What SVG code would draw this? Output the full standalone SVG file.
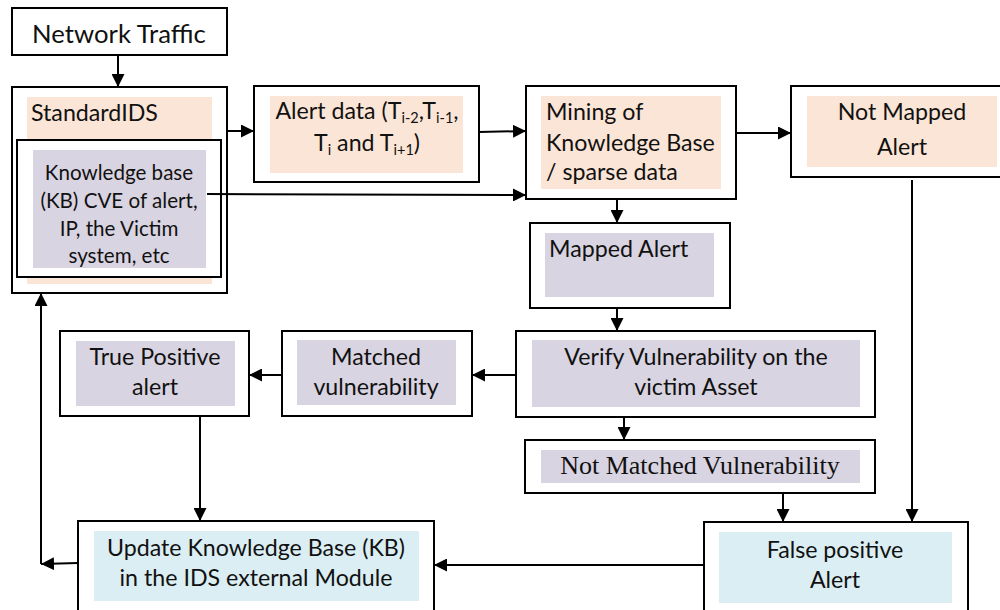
<svg xmlns="http://www.w3.org/2000/svg" width="1000" height="610" viewBox="0 0 1000 610">
  <style>
    .box { fill: #ffffff; stroke: #000000; stroke-width: 2; }
    .peach { fill: #fbe5d6; }
    .lilac { fill: #d9d4e1; }
    .aqua { fill: #daeef3; }
    .lbl { font-family: "Lato", "Liberation Sans", sans-serif; font-size: 23.2px; fill: #111111; }
    .big { font-size: 25.7px; }
    .small { font-size: 20.6px; }
    .mid { text-anchor: middle; }
    .serif { font-family: "Liberation Serif", "DejaVu Serif", serif; font-size: 26px; fill: #111111; }
    .sub { font-size: 14.5px; }
    .wire { fill: none; stroke: #000000; stroke-width: 2; }
  </style>
  <defs>
    <marker id="arrow" viewBox="0 0 13 13" refX="13" refY="6.5" markerWidth="13" markerHeight="13" markerUnits="userSpaceOnUse" orient="auto">
      <path d="M0,0 L13,6.5 L0,13 Z" fill="#000000"/>
    </marker>
  </defs>

  <rect width="1000" height="610" fill="#ffffff"/>

  <!-- nodes -->
  <g id="network-traffic">
    <rect class="box" x="12" y="8" width="215" height="47"/>
    <text class="lbl big mid" x="119" y="43">Network Traffic</text>
  </g>

  <g id="standard-ids">
    <rect class="box" x="12" y="87" width="215" height="206"/>
    <rect class="peach" x="27" y="97" width="185" height="187"/>
    <text class="lbl" x="31" y="121">StandardIDS</text>
  </g>

  <g id="knowledge-base">
    <rect class="box" x="17" y="140" width="204" height="137"/>
    <rect class="lilac" x="33" y="150" width="173" height="118"/>
    <text class="lbl small mid" x="119" y="180">Knowledge base</text>
    <text class="lbl small mid" x="119" y="208">(KB) CVE of alert,</text>
    <text class="lbl small mid" x="119" y="236">IP, the Victim</text>
    <text class="lbl small mid" x="119" y="263">system, etc</text>
  </g>

  <g id="alert-data">
    <rect class="box" x="254" y="86" width="225" height="96"/>
    <rect class="peach" x="270" y="96" width="193" height="77"/>
    <text class="lbl mid" x="367" y="119">Alert data (T<tspan class="sub" dy="4">i-2</tspan><tspan dy="-4">,T</tspan><tspan class="sub" dy="4">i-1</tspan><tspan dy="-4">,</tspan></text>
    <text class="lbl mid" x="367" y="151">T<tspan class="sub" dy="4">i</tspan><tspan dy="-4"> and T</tspan><tspan class="sub" dy="4">i+1</tspan><tspan dy="-4">)</tspan></text>
  </g>

  <g id="mining">
    <rect class="box" x="526" y="86" width="210" height="113"/>
    <rect class="peach" x="541" y="96" width="180" height="93"/>
    <text class="lbl" x="546" y="120">Mining of</text>
    <text class="lbl" x="546" y="151">Knowledge Base</text>
    <text class="lbl" x="546" y="180">/ sparse data</text>
  </g>

  <g id="not-mapped">
    <rect class="box" x="791" y="86" width="212" height="91"/>
    <rect class="peach" x="807" y="96" width="190" height="71"/>
    <text class="lbl mid" x="902" y="120">Not Mapped</text>
    <text class="lbl mid" x="902" y="155">Alert</text>
  </g>

  <g id="mapped-alert">
    <rect class="box" x="530" y="223" width="200" height="85"/>
    <rect class="lilac" x="545" y="233" width="169" height="64"/>
    <text class="lbl" x="549" y="257">Mapped Alert</text>
  </g>

  <g id="verify">
    <rect class="box" x="516" y="331" width="359" height="86"/>
    <rect class="lilac" x="532" y="340" width="328" height="67"/>
    <text class="lbl mid" x="696" y="365">Verify Vulnerability on the</text>
    <text class="lbl mid" x="696" y="395">victim Asset</text>
  </g>

  <g id="not-matched">
    <rect class="box" x="525" y="440" width="350" height="53"/>
    <rect class="lilac" x="541" y="450" width="319" height="33"/>
    <text class="serif mid" x="700" y="474">Not Matched Vulnerability</text>
  </g>

  <g id="matched">
    <rect class="box" x="282" y="331" width="190" height="85"/>
    <rect class="lilac" x="297" y="340" width="159" height="65"/>
    <text class="lbl mid" x="376" y="365">Matched</text>
    <text class="lbl mid" x="376" y="395">vulnerability</text>
  </g>

  <g id="true-positive">
    <rect class="box" x="60" y="331" width="189" height="85"/>
    <rect class="lilac" x="76" y="341" width="159" height="65"/>
    <text class="lbl mid" x="155" y="365">True Positive</text>
    <text class="lbl mid" x="155" y="395">alert</text>
  </g>

  <g id="false-positive">
    <rect class="box" x="704" y="522" width="264" height="92"/>
    <rect class="aqua" x="719" y="532" width="233" height="71"/>
    <text class="lbl mid" x="835" y="558">False positive</text>
    <text class="lbl mid" x="835" y="588">Alert</text>
  </g>

  <g id="update-kb">
    <rect class="box" x="78" y="521" width="356" height="93"/>
    <rect class="aqua" x="94" y="531" width="325" height="70"/>
    <text class="lbl mid" x="256" y="556">Update Knowledge Base (KB)</text>
    <text class="lbl mid" x="256" y="586">in the IDS external Module</text>
  </g>

  <!-- connectors -->
  <g id="connectors">
    <path class="wire" marker-end="url(#arrow)" d="M118,55 L118,87"/>
    <path class="wire" marker-end="url(#arrow)" d="M227,131 L254,131"/>
    <path class="wire" marker-end="url(#arrow)" d="M479,132 L526,131"/>
    <path class="wire" marker-end="url(#arrow)" d="M207,194 L526,195"/>
    <path class="wire" marker-end="url(#arrow)" d="M736,133 L791,133"/>
    <path class="wire" marker-end="url(#arrow)" d="M617,199 L617,223"/>
    <path class="wire" marker-end="url(#arrow)" d="M617,308 L617,331"/>
    <path class="wire" marker-end="url(#arrow)" d="M624,417 L624,440"/>
    <path class="wire" marker-end="url(#arrow)" d="M516,375 L472,375"/>
    <path class="wire" marker-end="url(#arrow)" d="M282,375 L249,375"/>
    <path class="wire" marker-end="url(#arrow)" d="M783,493 L783,522"/>
    <path class="wire" marker-end="url(#arrow)" d="M912,180 L912,522"/>
    <path class="wire" marker-end="url(#arrow)" d="M704,565 L434,565"/>
    <path class="wire" marker-end="url(#arrow)" d="M200,416 L200,521"/>
    <path class="wire" marker-end="url(#arrow)" d="M78,563 L41,564"/>
    <path class="wire" marker-end="url(#arrow)" d="M41,564 L41,293"/>
  </g>
</svg>
